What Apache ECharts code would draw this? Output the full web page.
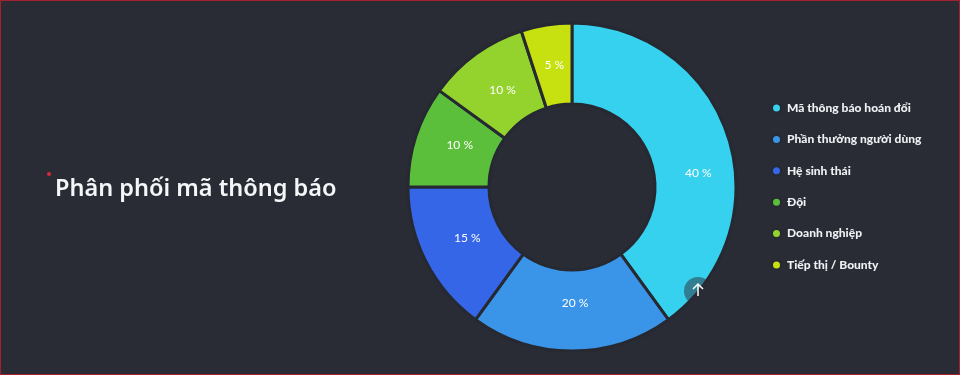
<!DOCTYPE html>
<html>
<head>
<meta charset="utf-8">
<script src="https://cdn.jsdelivr.net/npm/echarts@6/dist/echarts.min.js"></script>
<style>
  html, body { margin: 0; padding: 0; background: #292c35; }
  #chart { width: 960px; height: 375px; }
</style>
</head>
<body>
<div id="chart"></div>
<script>
  var categories = ['Mã thông báo hoán đổi', 'Phần thưởng người dùng', 'Hệ sinh thái', 'Đội', 'Doanh nghiệp', 'Tiếp thị / Bounty']
  var values = [40, 20, 15, 10, 10, 5]
  var colors = ['#36d1ee', '#3a95e8', '#3566e8', '#5cbf3c', '#94d22e', '#c6e10f']
  var bg = '#292c35'

  var myChart = echarts.init(document.getElementById('chart'))

  var option = {
    backgroundColor: bg,
    animation: false,
    color: colors,
    title: {
      text: 'Phân phối mã thông báo',
      left: 55,
      top: 172,
      textStyle: {
        color: '#f4f6f8',
        fontFamily: 'Noto Sans',
        fontSize: 23.5,
        fontWeight: 600,
        lineHeight: 34
      },
      padding: 0
    },
    legend: {
      orient: 'vertical',
      left: 766,
      top: 95,
      icon: 'circle',
      itemWidth: 9,
      itemHeight: 9,
      itemGap: 15.4,
      selectedMode: false,
      textStyle: {
        color: '#eef0f2',
        fontFamily: 'Lato',
        fontSize: 12,
        fontWeight: 900,
        padding: [0, 0, 0, 1],
        lineHeight: 16
      },
      data: categories
    },
    series: [{
      type: 'pie',
      center: [572, 187],
      radius: [83, 164],
      startAngle: 90,
      clockwise: true,
      label: {
        show: true,
        position: 'inside',
        color: '#fff',
        fontFamily: 'Lato',
        fontSize: 12,
        formatter: function (p) { return p.value + ' %' }
      },
      labelLine: { show: false },
      itemStyle: { borderColor: '#262931', borderWidth: 3 },
      emphasis: { disabled: true },
      // 原图的标签不在扇形正中，逐个微调
      labelLayout: function (params) {
        var shift = [[6, 25], [3, -10], [8, -6], [8, -3], [5, 5], [2, 3]][params.dataIndex]
        return { dx: shift[0], dy: shift[1] }
      },
      data: categories.map(function (name, i) {
        return { name: name, value: values[i] }
      })
    }],
    graphic: [
      { type: 'rect', z: 100, silent: true, shape: { x: 0.5, y: 0.5, width: 959, height: 374 }, style: { fill: 'none', stroke: '#a3202c', lineWidth: 1 } },
      { type: 'circle', z: 100, silent: true, shape: { cx: 49, cy: 174, r: 2 }, style: { fill: '#d62a3c' } },
      // 返回顶部按钮
      { type: 'circle', z: 100, silent: true, shape: { cx: 698, cy: 291, r: 14 }, style: { fill: bg, opacity: 0.5 } },
      { type: 'polyline', z: 101, silent: true, shape: { points: [[698, 296], [698, 284]] }, style: { stroke: '#fff', lineWidth: 1.5, fill: 'none' } },
      { type: 'polyline', z: 101, silent: true, shape: { points: [[693, 289], [698, 284], [703, 289]] }, style: { stroke: '#fff', lineWidth: 1.5, fill: 'none' } }
    ]
  }

  myChart.setOption(option)
</script>
</body>
</html>
